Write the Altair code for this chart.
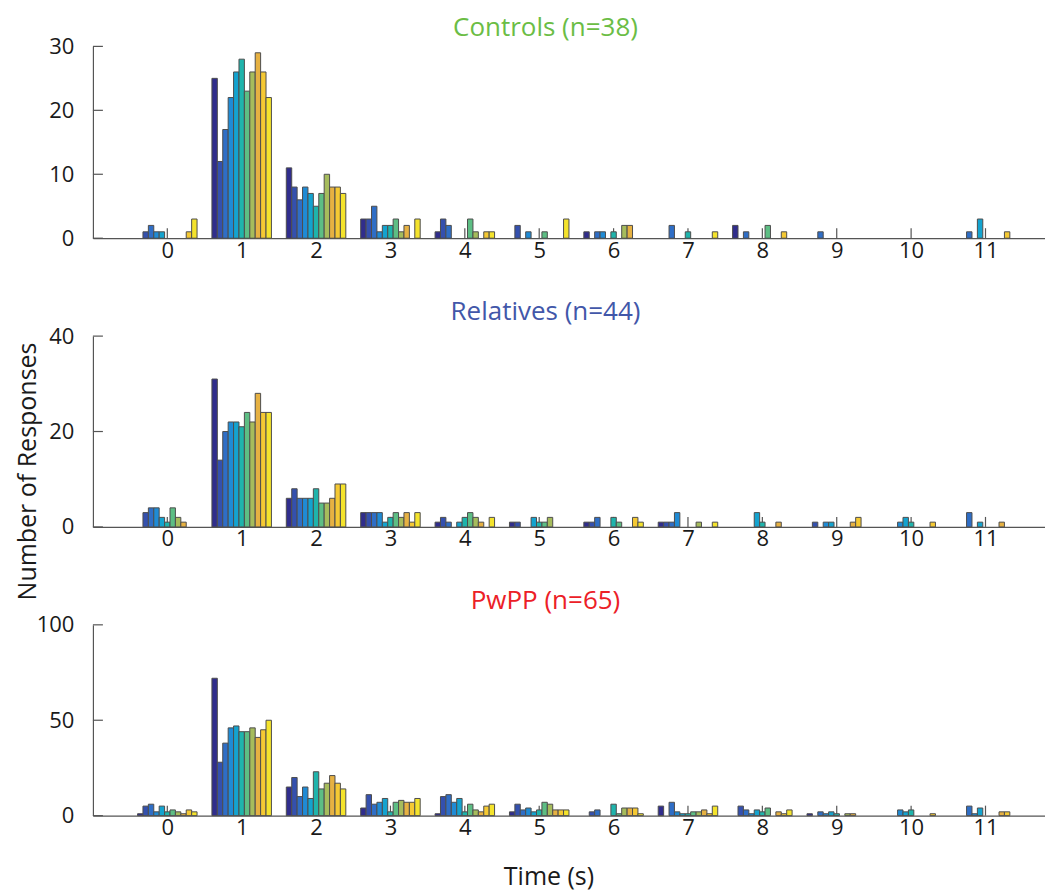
import altair as alt
import pandas as pd

# ---------------- data ----------------
time_bins = list(range(12))
series_idx = list(range(11))

bar_colors = ["#302d8c", "#3450ae", "#2f6ec6", "#1f8bd5", "#14a3cf", "#1fb4ac",
              "#5dbe84", "#a6bc5c", "#e6b142", "#f5c933", "#f4e32c"]

controls = [
    [0, 1, 2, 1, 1, 0, 0, 0, 0, 1, 3],
    [25, 12, 17, 22, 26, 28, 23, 26, 29, 26, 22],
    [11, 8, 6, 8, 7, 5, 7, 10, 8, 8, 7],
    [3, 3, 5, 1, 2, 2, 3, 1, 2, 0, 3],
    [1, 3, 2, 0, 0, 0, 3, 1, 0, 1, 1],
    [0, 2, 0, 1, 0, 0, 1, 0, 0, 0, 3],
    [1, 0, 1, 1, 0, 1, 0, 2, 2, 0, 0],
    [0, 0, 2, 0, 0, 1, 0, 0, 0, 0, 1],
    [2, 0, 1, 0, 0, 0, 2, 0, 0, 1, 0],
    [0, 0, 1, 0, 0, 0, 0, 0, 0, 0, 0],
    [0, 0, 0, 0, 0, 0, 0, 0, 0, 0, 0],
    [0, 0, 1, 0, 3, 0, 0, 0, 0, 1, 0],
]

relatives = [
    [0, 3, 4, 4, 2, 1, 4, 2, 1, 0, 0],
    [31, 14, 20, 22, 22, 21, 24, 22, 28, 24, 24],
    [6, 8, 6, 6, 6, 8, 5, 5, 6, 9, 9],
    [3, 3, 3, 3, 1, 2, 3, 2, 3, 1, 3],
    [1, 2, 1, 0, 1, 2, 3, 2, 1, 0, 2],
    [1, 1, 0, 0, 2, 1, 1, 2, 0, 0, 0],
    [1, 1, 2, 0, 0, 2, 1, 0, 0, 2, 1],
    [1, 1, 1, 3, 0, 0, 0, 1, 0, 0, 1],
    [0, 0, 0, 0, 3, 1, 0, 0, 1, 0, 0],
    [0, 1, 0, 1, 1, 0, 0, 0, 1, 2, 0],
    [0, 0, 0, 1, 2, 1, 0, 0, 0, 1, 0],
    [0, 0, 3, 0, 1, 0, 0, 0, 1, 0, 0],
]

pwpp = [
    [1, 5, 6, 2, 5, 2, 3, 2, 1, 3, 2],
    [72, 28, 38, 46, 47, 44, 44, 46, 41, 45, 50],
    [15, 20, 10, 15, 9, 23, 14, 17, 21, 17, 14],
    [4, 11, 6, 7, 9, 2, 7, 8, 7, 7, 9],
    [1, 10, 11, 7, 9, 2, 6, 3, 2, 5, 6],
    [2, 6, 3, 4, 2, 3, 7, 6, 3, 3, 3],
    [0, 2, 3, 0, 0, 6, 1, 4, 4, 4, 1],
    [5, 0, 7, 2, 1, 1, 2, 2, 3, 1, 5],
    [0, 5, 3, 1, 3, 2, 4, 0, 2, 1, 3],
    [1, 0, 2, 1, 2, 1, 0, 1, 1, 0, 0],
    [0, 0, 0, 3, 2, 3, 0, 0, 0, 1, 0],
    [0, 0, 5, 1, 4, 0, 0, 0, 2, 2, 0],
]

panel_titles = ["Controls (n=38)", "Relatives (n=44)", "PwPP (n=65)"]
title_colors = ["#6bbd45", "#4257a9", "#ec2027"]
y_max = [30, 40, 100]
y_ticks = [[0, 10, 20, 30], [0, 20, 40], [0, 50, 100]]
panel_heights = [192, 191, 191]
title_dy = [-10, -16, -16]

# ---------------- style ----------------
W = 953
FONT = "Open Sans"
FS_TICK = 22
FS_LABEL = 25
FS_TITLE = 26
AXIS_GRAY = "#555555"
TEXT = "#1a1a1a"
X_DOMAIN = [-1, 11.8]


def make_panel(values, title, tcolor, tdy, ymax, yticks, h, ylabel, xlabel):
    rows = [{"bin": b, "series": s, "n": v}
            for b, row in zip(time_bins, values)
            for s, v in zip(series_idx, row)]
    df = pd.DataFrame(rows)

    xscale = alt.Scale(domain=X_DOMAIN, nice=False, zero=False)
    yscale = alt.Scale(domain=[0, ymax], nice=False)

    xaxis_kw = dict(values=time_bins, format="d", ticks=False, grid=False,
                    labelPadding=2, labelFontSize=FS_TICK, labelFont=FONT,
                    labelColor=TEXT, domainColor=AXIS_GRAY, domainWidth=1.2,
                    labelFlush=False)
    if xlabel:
        xaxis_kw.update(title=xlabel, titleFont=FONT, titleFontSize=FS_LABEL,
                        titleFontWeight="normal", titleColor=TEXT,
                        titleX=456, titleY=69, titleBaseline="alphabetic",
                        titleAlign="center")
    else:
        xaxis_kw.update(title="")

    yaxis_kw = dict(values=yticks, ticks=False, grid=False, labelPadding=19,
                    labelFontSize=FS_TICK, labelFont=FONT, labelColor=TEXT,
                    domainColor=AXIS_GRAY, domainWidth=1.2, labelFlush=False)
    if ylabel:
        yaxis_kw.update(title=ylabel, titleFont=FONT, titleFontSize=FS_LABEL,
                        titleFontWeight="normal", titleColor=TEXT,
                        titleX=-57, titleY=135, titleAngle=270,
                        titleBaseline="alphabetic", titleAlign="center")
    else:
        yaxis_kw.update(title="")

    xaxis = alt.Axis(**xaxis_kw)
    yaxis = alt.Axis(**yaxis_kw)

    bars = (
        alt.Chart(df)
        .transform_filter("datum.n > 0")
        .transform_calculate(
            x0="datum.bin + (datum.series - 5.5) * 0.8 / 11",
            x1="datum.bin + (datum.series - 4.5) * 0.8 / 11",
        )
        .mark_bar(stroke="#4d4d4d", strokeWidth=1)
        .encode(
            x=alt.X("x0:Q", scale=xscale, axis=xaxis),
            x2="x1:Q",
            y=alt.Y("n:Q", scale=yscale, axis=yaxis),
            y2=alt.datum(0),
            color=alt.Color("series:N",
                            scale=alt.Scale(domain=series_idx, range=bar_colors),
                            legend=None),
        )
    )

    xt = (
        alt.Chart(pd.DataFrame({"bin": time_bins}))
        .mark_rule(color=AXIS_GRAY, strokeWidth=1.2)
        .encode(x=alt.X("bin:Q", scale=xscale, axis=xaxis),
                y=alt.value(h), y2=alt.value(h - 10))
    )
    yt = (
        alt.Chart(pd.DataFrame({"v": yticks}))
        .mark_rule(color=AXIS_GRAY, strokeWidth=1.2)
        .encode(y=alt.Y("v:Q", scale=yscale, axis=yaxis),
                x=alt.value(0), x2=alt.value(10))
    )
    ttl = (
        alt.Chart(pd.DataFrame({"t": [title]}))
        .mark_text(font=FONT, fontSize=FS_TITLE, color=tcolor,
                   align="center", baseline="alphabetic")
        .encode(text="t:N", x=alt.value(453), y=alt.value(tdy))
    )

    return alt.layer(xt, yt, bars, ttl).properties(width=W, height=h)


panels = []
datasets = [controls, relatives, pwpp]
for i in range(3):
    panels.append(make_panel(datasets[i], panel_titles[i], title_colors[i],
                             title_dy[i], y_max[i], y_ticks[i], panel_heights[i],
                             "Number of Responses" if i == 1 else None,
                             "Time (s)" if i == 2 else None))

chart = (
    alt.vconcat(*panels, spacing=98, bounds="flush")
    .properties(padding={"left": 7, "top": 7, "right": 0, "bottom": 3})
    .configure(font=FONT, view=alt.ViewConfig(stroke=None))
)

chart.save("out.html", embed_options={"renderer": "svg", "actions": False})
